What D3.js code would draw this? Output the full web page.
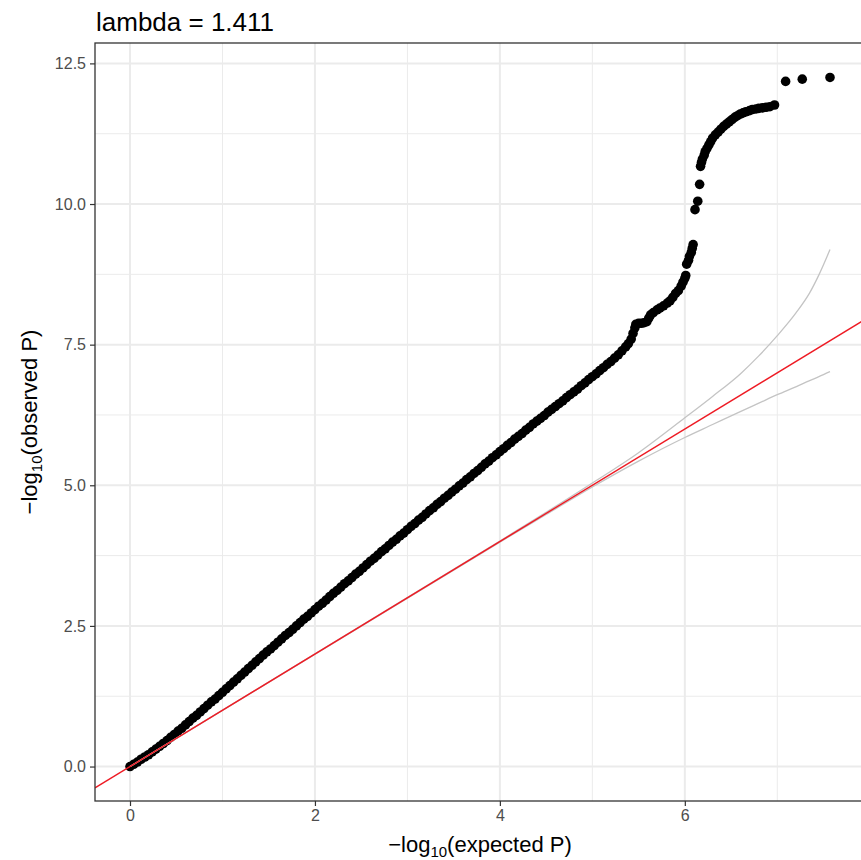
<!DOCTYPE html>
<html>
<head>
<meta charset="utf-8">
<script src="https://cdn.jsdelivr.net/npm/d3@7"></script>
<style>
  body { margin: 0; background: #fff; }
  svg text { font-family: "Liberation Sans", Arial, Helvetica, sans-serif; }
</style>
</head>
<body>
<div id="chart"></div>
<script>
// QQ plot values (-log10 expected P vs -log10 observed P)
const expected = [
  0.00, 0.04, 0.08, 0.12, 0.16, 0.20, 0.24, 0.28, 0.32, 0.36, 0.40, 0.44, 0.48, 0.52, 0.56,
  0.60, 0.64, 0.68, 0.72, 0.76, 0.80, 0.84, 0.88, 0.92, 0.96, 1.00, 1.04, 1.08, 1.12, 1.16,
  1.20, 1.24, 1.28, 1.32, 1.36, 1.40, 1.44, 1.48, 1.52, 1.56, 1.60, 1.64, 1.68, 1.72, 1.76,
  1.80, 1.84, 1.88, 1.92, 1.96, 2.00, 2.04, 2.08, 2.12, 2.16, 2.20, 2.24, 2.28, 2.32, 2.36,
  2.40, 2.44, 2.48, 2.52, 2.56, 2.60, 2.64, 2.68, 2.72, 2.76, 2.80, 2.84, 2.88, 2.92, 2.96,
  3.00, 3.04, 3.08, 3.12, 3.16, 3.20, 3.24, 3.28, 3.32, 3.36, 3.40, 3.44, 3.48, 3.52, 3.56,
  3.60, 3.64, 3.68, 3.72, 3.76, 3.80, 3.84, 3.88, 3.92, 3.96, 4.00, 4.04, 4.08, 4.12, 4.16,
  4.20, 4.24, 4.28, 4.32, 4.36, 4.40, 4.44, 4.48, 4.52, 4.56, 4.60, 4.64, 4.68, 4.72, 4.76,
  4.80, 4.84, 4.88, 4.92, 4.96, 5.00, 5.04, 5.08, 5.12, 5.16, 5.20, 5.24, 5.28, 5.32, 5.36,
  5.39, 5.42, 5.44, 5.46, 5.47, 5.50, 5.53, 5.56, 5.59, 5.61, 5.63, 5.66, 5.70, 5.73, 5.77,
  5.81, 5.84, 5.87, 5.90, 5.93, 5.96, 5.98, 6.00, 6.01,
  6.02, 6.04, 6.05, 6.07, 6.08, 6.09,
  6.11, 6.14, 6.16,
  6.17, 6.18, 6.19, 6.21, 6.22, 6.24, 6.26, 6.28, 6.30, 6.33, 6.36, 6.39, 6.42, 6.45, 6.48,
  6.51, 6.54, 6.57, 6.60, 6.63, 6.66, 6.70, 6.73, 6.77, 6.80, 6.84, 6.88, 6.92, 6.97,
  7.09, 7.27, 7.57
];
const observed = [
  0.00, 0.04, 0.08, 0.13, 0.17, 0.21, 0.26, 0.31, 0.36, 0.41, 0.46, 0.52, 0.57, 0.63, 0.68,
  0.74, 0.80, 0.86, 0.91, 0.97, 1.03, 1.09, 1.15, 1.20, 1.26, 1.32, 1.38, 1.44, 1.50, 1.56,
  1.62, 1.68, 1.74, 1.80, 1.86, 1.92, 1.98, 2.04, 2.09, 2.15, 2.21, 2.27, 2.33, 2.38, 2.44,
  2.50, 2.56, 2.62, 2.67, 2.73, 2.79, 2.85, 2.90, 2.96, 3.02, 3.08, 3.13, 3.19, 3.25, 3.30,
  3.36, 3.42, 3.47, 3.53, 3.59, 3.65, 3.70, 3.76, 3.82, 3.87, 3.93, 3.99, 4.04, 4.10, 4.15,
  4.21, 4.27, 4.32, 4.38, 4.43, 4.49, 4.55, 4.60, 4.66, 4.71, 4.77, 4.82, 4.88, 4.93, 4.99,
  5.04, 5.10, 5.15, 5.21, 5.26, 5.32, 5.38, 5.43, 5.49, 5.54, 5.60, 5.65, 5.71, 5.76, 5.82,
  5.87, 5.92, 5.98, 6.03, 6.09, 6.14, 6.19, 6.24, 6.30, 6.35, 6.40, 6.45, 6.50, 6.56, 6.61,
  6.66, 6.71, 6.77, 6.82, 6.88, 6.93, 6.98, 7.04, 7.09, 7.15, 7.20, 7.26, 7.32, 7.39, 7.46,
  7.52, 7.60, 7.70, 7.80, 7.86, 7.88, 7.88, 7.89, 7.91, 7.97, 8.03, 8.07, 8.12, 8.15, 8.19,
  8.24, 8.28, 8.34, 8.41, 8.46, 8.54, 8.61, 8.68, 8.73,
  8.93, 9.00, 9.07, 9.14, 9.21, 9.28,
  9.90, 10.05, 10.35,
  10.67, 10.74, 10.80, 10.87, 10.93, 10.99, 11.05, 11.11, 11.17, 11.23, 11.28, 11.33, 11.38, 11.42, 11.46,
  11.50, 11.54, 11.57, 11.60, 11.62, 11.64, 11.66, 11.68, 11.69, 11.70, 11.71, 11.72, 11.73, 11.76,
  12.18, 12.22, 12.25
];

// 95% band around the null
const ciX     = [0, 4, 4.5, 5, 5.5, 6, 6.3, 6.6, 6.8, 7.0, 7.2, 7.35, 7.45, 7.57];
const ciUpper = [0, 4.01, 4.52, 5.04, 5.58, 6.20, 6.58, 6.98, 7.30, 7.66, 8.06, 8.42, 8.74, 9.19];
const ciLower = [0, 3.99, 4.48, 4.97, 5.43, 5.85, 6.08, 6.31, 6.46, 6.61, 6.75, 6.86, 6.93, 7.02];

const xTicks = [0, 2, 4, 6];
const xMinor = [1, 3, 5, 7];
const yTicks = [0, 2.5, 5, 7.5, 10, 12.5];
const yMinor = [1.25, 3.75, 6.25, 8.75, 11.25];
const lambdaLabel = 'lambda = 1.411';

const W = 861, H = 860;
const panel = {left: 95, top: 43, right: 865, bottom: 801};

const svg = d3.select('#chart')
  .append('svg')
  .attr('width', W)
  .attr('height', H);

// ggplot-style expanded limits (5% each side)
const xMax = d3.max(expected), yMax = d3.max(observed);
const x = d3.scaleLinear()
  .domain([-xMax * 0.05, xMax * 1.05])
  .range([panel.left, panel.right]);
const y = d3.scaleLinear()
  .domain([-yMax * 0.05, yMax * 1.05])
  .range([panel.bottom, panel.top]);

svg.append('defs').append('clipPath').attr('id', 'clip')
  .append('rect')
  .attr('x', panel.left).attr('y', panel.top)
  .attr('width', panel.right - panel.left).attr('height', panel.bottom - panel.top);

// grid
const grid = svg.append('g');
grid.selectAll('.vminor').data(xMinor).enter().append('line')
  .attr('x1', d => x(d)).attr('x2', d => x(d))
  .attr('y1', panel.top).attr('y2', panel.bottom)
  .attr('stroke', '#ebebeb').attr('stroke-width', 1);
grid.selectAll('.hminor').data(yMinor).enter().append('line')
  .attr('y1', d => y(d)).attr('y2', d => y(d))
  .attr('x1', panel.left).attr('x2', panel.right)
  .attr('stroke', '#ebebeb').attr('stroke-width', 1);
grid.selectAll('.vmajor').data(xTicks).enter().append('line')
  .attr('x1', d => x(d)).attr('x2', d => x(d))
  .attr('y1', panel.top).attr('y2', panel.bottom)
  .attr('stroke', '#ebebeb').attr('stroke-width', 2);
grid.selectAll('.hmajor').data(yTicks).enter().append('line')
  .attr('y1', d => y(d)).attr('y2', d => y(d))
  .attr('x1', panel.left).attr('x2', panel.right)
  .attr('stroke', '#ebebeb').attr('stroke-width', 2);

// points
const pts = expected.map((e, i) => ({e: e, o: observed[i]}));
svg.append('g')
  .selectAll('circle')
  .data(pts)
  .enter()
  .append('circle')
  .attr('cx', d => x(d.e))
  .attr('cy', d => y(d.o))
  .attr('r', 4.8)
  .attr('fill', '#000');

const plotArea = svg.append('g').attr('clip-path', 'url(#clip)');

// confidence band lines
const ciLine = d3.line().curve(d3.curveMonotoneX);
plotArea.append('path')
  .attr('d', ciLine(ciX.map((v, i) => [x(v), y(ciUpper[i])])))
  .attr('fill', 'none').attr('stroke', '#c4c4c4').attr('stroke-width', 1.3);
plotArea.append('path')
  .attr('d', ciLine(ciX.map((v, i) => [x(v), y(ciLower[i])])))
  .attr('fill', 'none').attr('stroke', '#c4c4c4').attr('stroke-width', 1.3);

// identity line
const xd = x.domain();
plotArea.append('line')
  .attr('x1', x(xd[0])).attr('y1', y(xd[0]))
  .attr('x2', x(xd[1])).attr('y2', y(xd[1]))
  .attr('stroke', '#ee1b24').attr('stroke-width', 1.4);

// panel border
svg.append('rect')
  .attr('x', panel.left).attr('y', panel.top)
  .attr('width', panel.right - panel.left).attr('height', panel.bottom - panel.top)
  .attr('fill', 'none').attr('stroke', '#333').attr('stroke-width', 1.3);

// axes
const xAxis = svg.append('g')
  .attr('transform', `translate(0,${panel.bottom})`)
  .call(d3.axisBottom(x).tickValues(xTicks).tickFormat(d3.format('d')).tickSize(5).tickPadding(4));
const yAxis = svg.append('g')
  .attr('transform', `translate(${panel.left},0)`)
  .call(d3.axisLeft(y).tickValues(yTicks).tickFormat(d3.format('.1f')).tickSize(5).tickPadding(4));

[xAxis, yAxis].forEach(a => {
  a.select('.domain').remove();
  a.selectAll('.tick line').attr('stroke', '#333').attr('stroke-width', 1.2);
  a.selectAll('.tick text')
    .attr('fill', '#4d4d4d')
    .style('font-size', '16px')
    .style('font-family', '"Liberation Sans", Arial, sans-serif');
});

// title
svg.append('text')
  .attr('x', panel.left + 1)
  .attr('y', 31)
  .style('font-size', '26px')
  .attr('fill', '#000')
  .text(lambdaLabel);

// axis titles with subscript 10
function axisTitle(g, word) {
  g.append('tspan').text('\u2212log');
  g.append('tspan').text('10').style('font-size', '15px').attr('dy', 5);
  g.append('tspan').text(`(${word} P)`).attr('dy', -5);
}

const xt = svg.append('text')
  .attr('x', (panel.left + panel.right) / 2)
  .attr('y', 852)
  .attr('text-anchor', 'middle')
  .style('font-size', '22px')
  .attr('fill', '#000');
axisTitle(xt, 'expected');

const yt = svg.append('text')
  .attr('transform', `translate(37,${(panel.top + panel.bottom) / 2}) rotate(-90)`)
  .attr('text-anchor', 'middle')
  .style('font-size', '22px')
  .attr('fill', '#000');
axisTitle(yt, 'observed');
</script>
</body>
</html>
